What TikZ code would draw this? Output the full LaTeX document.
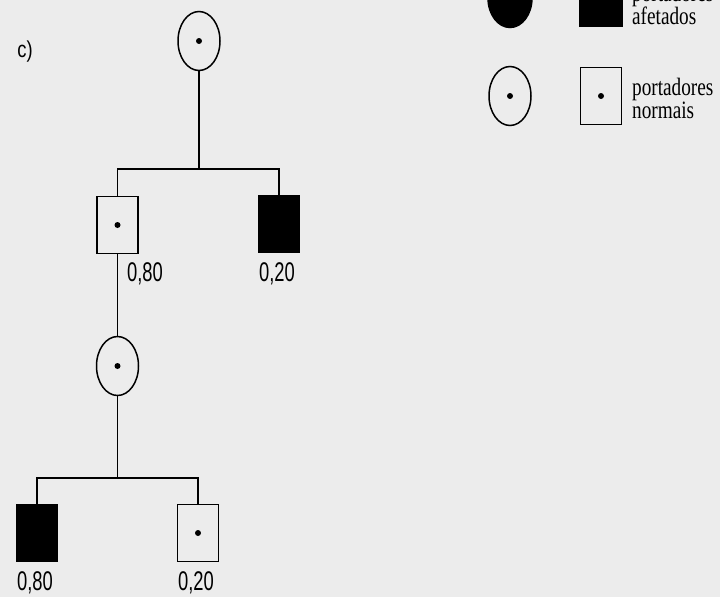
\documentclass[tikz,border=0pt]{standalone}
\usepackage{fontspec}
\setmainfont{Liberation Serif}
\setsansfont{Liberation Sans}
\usetikzlibrary{shapes.geometric}
\definecolor{paper}{RGB}{236,236,236}

\begin{document}
\begin{tikzpicture}[x=1pt, y=-1pt, every node/.style={inner sep=0pt},
    sq/.style={draw, line width=1.8pt, minimum width=41pt, minimum height=57pt},
    ci/.style={draw, ellipse, line width=1.5pt, minimum width=42pt, minimum height=59pt},
    aff/.style={fill=black},
    carrier/.style={path picture={\fill (path picture bounding box.center) circle (3pt);}},
    num/.style={font=\fontsize{27}{27}\sffamily, xscale=0.68, transform shape},
    legtext/.style={font=\fontsize{25}{23}\selectfont, xscale=0.77, transform shape, align=left, anchor=base west},
    link/.style={line width=1.8pt}]
    \fill[paper] (0,0) rectangle (720,597);
    \clip (0,0) rectangle (720,597);

    \node[font=\fontsize{23}{23}\sffamily, xscale=0.8, transform shape] (tag) at (25,52) {c)};

    % pedigree
    \node[ci, carrier] (F1) at (199,41) {};
    \node[sq, carrier] (S1) at (117.5,225) {};
    \node[sq, aff] (S2) at (279,224) {};
    \node[ci, carrier] (F2) at (117.5,366) {};
    \node[sq, aff] (S3) at (37,533) {};
    \node[sq, carrier] (S4) at (198,533) {};
    \coordinate (m1) at (199,169);
    \coordinate (m2) at (117.5,478);
    \draw[link] (F1.south) -- (m1);
    \draw[link] (S1.north) |- (m1) -| (S2.north);
    \draw[link] (S1.south) -- (F2.north);
    \draw[link] (F2.south) -- (m2);
    \draw[link] (S3.north) |- (m2) -| (S4.north);

    \node[num] (p1) at (145,274) {0,80};
    \node[num] (p2) at (277,274) {0,20};
    \node[num] (p3) at (35,583) {0,80};
    \node[num] (p4) at (196,583) {0,20};

    % legend
    \node[ci, aff, minimum width=44pt] (LF1) at (510,-2) {};
    \node[sq, aff, minimum width=43pt] (LS1) at (601,-2) {};
    \node[legtext] (L1) at (632,24) {portadores\\afetados};
    \node[ci, carrier] (LF2) at (510,96) {};
    \node[sq, carrier] (LS2) at (601,96) {};
    \node[legtext] (L2) at (632,118) {portadores\\normais};
\end{tikzpicture}
\end{document}
